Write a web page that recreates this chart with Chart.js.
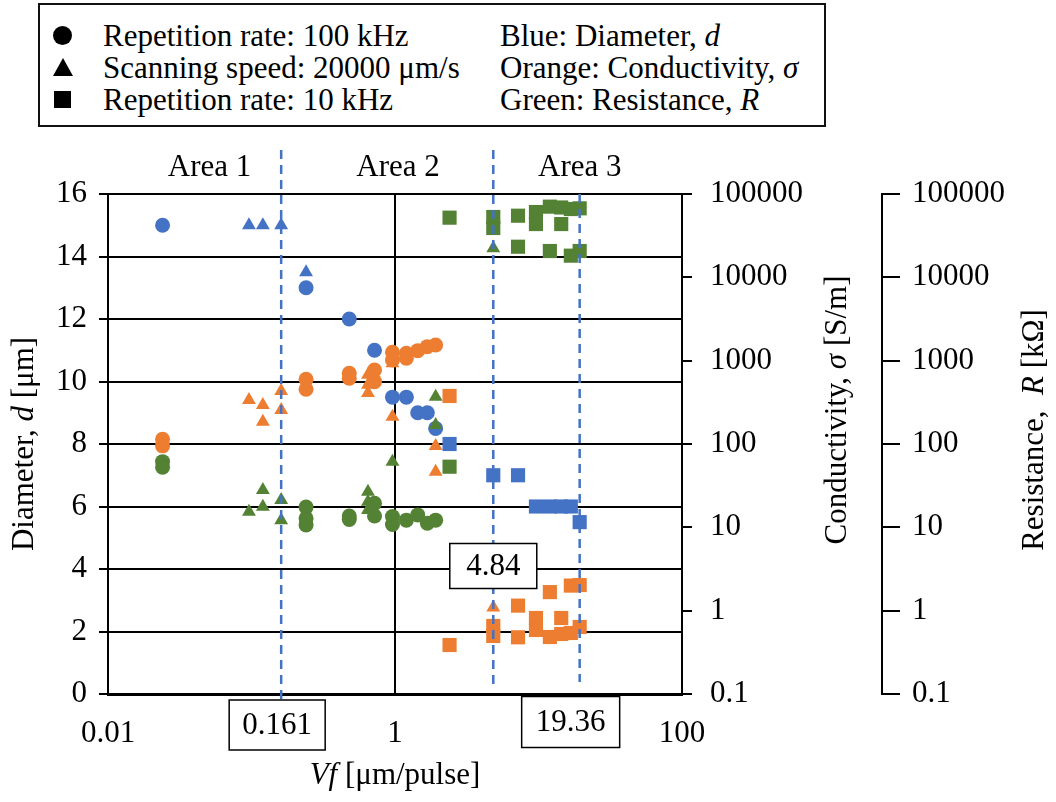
<!DOCTYPE html>
<html>
<head>
<meta charset="utf-8">
<script src="https://cdn.jsdelivr.net/npm/chart.js@4.4.1/dist/chart.umd.min.js"></script>
<style>
  body { margin: 0; background: #fff; }
  #wrap { position: relative; width: 1056px; height: 802px; }
  #chart { position: absolute; left: 0; top: 0; }
  .legend {
    position: absolute; left: 38px; top: 3px; width: 784px; height: 120px;
    border: 2px solid #111; background: #fff;
    font-family: "Liberation Serif", serif; font-size: 31px; color: #000;
  }
  .row { position: absolute; line-height: 32px; white-space: nowrap; }
  .sym { position: absolute; background: #000; }
  .circle { width: 19px; height: 19px; border-radius: 50%; }
  .square { width: 17px; height: 17px; }
  .tri { width: 0; height: 0; background: none; border-left: 10px solid transparent; border-right: 10px solid transparent; border-bottom: 18px solid #000; }
</style>
</head>
<body>
<div id="wrap">
  <canvas id="chart" width="1056" height="802"></canvas>
  <div class="legend">
    <div class="sym circle" style="left:13px; top:21px;"></div>
    <div class="sym tri" style="left:13px; top:53px;"></div>
    <div class="sym square" style="left:14px; top:86px;"></div>
    <div class="row" style="left:63px; top:15px;">Repetition rate: 100 kHz</div>
    <div class="row" style="left:63px; top:47px;">Scanning speed: 20000 μm/s</div>
    <div class="row" style="left:63px; top:79px;">Repetition rate: 10 kHz</div>
    <div class="row" style="left:460px; top:15px;">Blue: Diameter, <i>d</i></div>
    <div class="row" style="left:460px; top:47px;">Orange: Conductivity, <i>σ</i></div>
    <div class="row" style="left:460px; top:79px;">Green: Resistance, <i>R</i></div>
  </div>
</div>
<script>
// Vf [um/pulse] for each sample group
const circleVf = [0.024, 0.24, 0.48, 0.72, 0.96, 1.2, 1.44, 1.68, 1.92];
const triVf = [0.096, 0.12, 0.161, 0.24];
const squareVf = [2.4, 4.84, 7.2, 9.6, 12, 14.4, 16.8, 19.36];

// Diameter d [um]
const dCircle = [15, 13, 12, 11, 9.5, 9.5, 9, 9, 8.5];
const dTri = [15, 15, 15, 13.5];
const dSquare = [8, 7, 7, 6, 6, 6, 6, 5.5];

// Conductivity sigma [S/m]
const sigCircleVf = [0.024, 0.024, 0.24, 0.24, 0.48, 0.48, 0.72, 0.72, 0.96, 0.96, 1.2, 1.2, 1.44, 1.68, 1.92];
const sigCircle = [114, 95, 598, 454, 706, 615, 773, 560, 1260, 1019, 1227, 1069, 1318, 1472, 1542];
const sigTriVf = [0.096, 0.12, 0.12, 0.161, 0.161, 0.648, 0.648, 0.648, 0.96, 0.96, 1.92, 1.92, 4.84];
const sigTri = [337, 294, 185, 433, 256, 679, 515, 409, 931, 213, 94.6, 46.6, 1.09];
const sigSquareVf = [2.4, 2.4, 4.84, 4.84, 7.2, 7.2, 9.6, 9.6, 12, 12, 14.4, 14.4, 16.8, 16.8, 19.36, 19.36];
const sigSquare = [377, 0.387, 0.655, 0.497, 1.15, 0.479, 0.817, 0.586, 1.67, 0.483, 0.817, 0.525, 2.0, 0.54, 2.03, 0.637];

// Resistance R [kOhm]
const resCircleVf = [0.024, 0.024, 0.24, 0.24, 0.24, 0.48, 0.48, 0.72, 0.72, 0.96, 0.96, 1.2, 1.44, 1.68, 1.92];
const resCircle = [61.4, 52.6, 17.5, 12.8, 10.7, 13.7, 12.4, 19.4, 13.7, 13.5, 10.8, 12.2, 14.1, 11.2, 12.2];
const resTriVf = [0.096, 0.12, 0.12, 0.161, 0.161, 0.648, 0.648, 0.648, 0.96, 1.92, 1.92, 4.84];
const resTri = [15.4, 28.1, 17.7, 21.3, 12.2, 26.8, 20.3, 16.1, 61.4, 370, 169, 22300];
const resSquareVf = [2.4, 2.4, 4.84, 4.84, 7.2, 7.2, 9.6, 9.6, 12, 12, 14.4, 14.4, 16.8, 16.8, 19.36, 19.36];
const resSquare = [52000, 53.4, 53000, 39100, 54900, 23300, 60800, 43600, 70500, 20700, 68900, 43600, 66000, 18200, 67300, 20700];

// axis ticks
const xTicks = [0.01, 1, 100];
const logTicks = [0.1, 1, 10, 100, 1000, 10000, 100000];

// area boundaries and labels
const boundaries = [0.161, 4.84, 19.36];
const areaNames = ['Area 1', 'Area 2', 'Area 3'];
const areaCenters = [0.051, 1.05, 19.4];

const BLUE = '#4472C4', ORANGE = '#ED7D31', GREEN = '#548235';
const FONT = '"Liberation Serif", serif';
const FS = 31;

function pts(xs, ys) {
  return xs.map((x, i) => ({ x: x, y: ys[i] }));
}

function series(label, xs, ys, color, style, axis) {
  return {
    label: label,
    data: pts(xs, ys),
    yAxisID: axis,
    backgroundColor: color,
    borderColor: color,
    borderWidth: 0,
    pointStyle: style,
    pointRadius: style === 'rect' ? 10 : (style === 'triangle' ? 8 : 7.5),
    pointHoverRadius: style === 'rect' ? 10 : 8,
    showLine: false
  };
}

// text with italic runs, centred on (cx, cy)
function drawRich(ctx, parts, cx, cy, angle) {
  ctx.save();
  ctx.translate(cx, cy);
  ctx.rotate(angle);
  ctx.textBaseline = 'middle';
  ctx.textAlign = 'left';
  ctx.fillStyle = '#000';
  const fonts = parts.map(p => (p[1] ? 'italic ' : '') + FS + 'px ' + FONT);
  const widths = parts.map((p, i) => { ctx.font = fonts[i]; return ctx.measureText(p[0]).width; });
  let x = -widths.reduce((a, b) => a + b, 0) / 2;
  parts.forEach((p, i) => {
    ctx.font = fonts[i];
    ctx.fillText(p[0], x, 0);
    x += widths[i];
  });
  ctx.restore();
}

function boxedLabel(ctx, text, cx, cy, w, h) {
  ctx.save();
  ctx.fillStyle = '#fff';
  ctx.fillRect(cx - w / 2, cy - h / 2, w, h);
  ctx.strokeStyle = '#000';
  ctx.lineWidth = 1.5;
  ctx.strokeRect(cx - w / 2, cy - h / 2, w, h);
  ctx.fillStyle = '#000';
  ctx.font = FS + 'px ' + FONT;
  ctx.textAlign = 'center';
  ctx.textBaseline = 'middle';
  ctx.fillText(text, cx, cy + 1);
  ctx.restore();
}

const decorations = {
  id: 'decorations',
  afterDatasetsDraw(chart) {
    const ctx = chart.ctx;
    const xs = chart.scales.x;
    const area = chart.chartArea;

    // dashed area boundaries
    const tops = [150, 150, area.top];
    const bottoms = [700, 690, 682];
    ctx.save();
    ctx.strokeStyle = BLUE;
    ctx.lineWidth = 2.5;
    ctx.setLineDash([9, 6]);
    boundaries.forEach((v, i) => {
      const px = xs.getPixelForValue(v);
      ctx.beginPath();
      ctx.moveTo(px, tops[i]);
      ctx.lineTo(px, bottoms[i]);
      ctx.stroke();
    });
    ctx.restore();

    // area names
    ctx.save();
    ctx.fillStyle = '#000';
    ctx.font = FS + 'px ' + FONT;
    ctx.textAlign = 'center';
    ctx.textBaseline = 'middle';
    areaNames.forEach((t, i) => ctx.fillText(t, xs.getPixelForValue(areaCenters[i]), 168));
    ctx.restore();

    // boundary values
    boxedLabel(ctx, '0.161', xs.getPixelForValue(boundaries[0]) - 4, 725, 96, 50);
    boxedLabel(ctx, '4.84', xs.getPixelForValue(boundaries[1]), 566, 87, 45);
    boxedLabel(ctx, '19.36', xs.getPixelForValue(boundaries[2]) - 9, 722, 98, 51);

    // axis titles
    const mid = (area.top + area.bottom) / 2;
    drawRich(ctx, [['Diameter, ', false], ['d', true], [' [μm]', false]], 25, mid, -Math.PI / 2);
    drawRich(ctx, [['Conductivity, ', false], ['σ', true], [' [S/m]', false]], chart.scales.y2.left + 156, 410, -Math.PI / 2);
    drawRich(ctx, [['Resistance,  ', false], ['R', true], [' [kΩ]', false]], chart.scales.y3.left + 153, 430, -Math.PI / 2);
    drawRich(ctx, [['Vf', true], [' [μm/pulse]', false]], (area.left + area.right) / 2, 776, 0);
  }
};

const tickFont = { family: FONT, size: FS };

new Chart(document.getElementById('chart'), {
  type: 'scatter',
  data: {
    datasets: [
      series('R, 20000 um/s', resTriVf, resTri, GREEN, 'triangle', 'y3'),
      series('R, 100 kHz', resCircleVf, resCircle, GREEN, 'circle', 'y3'),
      series('R, 10 kHz', resSquareVf, resSquare, GREEN, 'rect', 'y3'),
      series('sigma, 20000 um/s', sigTriVf, sigTri, ORANGE, 'triangle', 'y2'),
      series('sigma, 100 kHz', sigCircleVf, sigCircle, ORANGE, 'circle', 'y2'),
      series('sigma, 10 kHz', sigSquareVf, sigSquare, ORANGE, 'rect', 'y2'),
      series('d, 20000 um/s', triVf, dTri, BLUE, 'triangle', 'y'),
      series('d, 100 kHz', circleVf, dCircle, BLUE, 'circle', 'y'),
      series('d, 10 kHz', squareVf, dSquare, BLUE, 'rect', 'y')
    ]
  },
  options: {
    responsive: false,
    animation: false,
    layout: { padding: { top: 194, left: 0, right: 0, bottom: 0 } },
    plugins: {
      legend: { display: false },
      tooltip: { enabled: false }
    },
    scales: {
      x: {
        type: 'logarithmic',
        min: 0.01,
        max: 100,
        afterBuildTicks: s => { s.ticks = xTicks.map(v => ({ value: v })); },
        afterFit: s => { s.height = 108; },
        ticks: { callback: v => String(v), font: tickFont, color: '#000', padding: 21, maxRotation: 0, autoSkip: false },
        grid: { color: '#000', lineWidth: 2, drawTicks: false },
        border: { color: '#000', width: 3 }
      },
      y: {
        type: 'linear',
        position: 'left',
        min: 0,
        max: 16,
        afterFit: s => { s.width = 108; },
        ticks: { stepSize: 2, font: tickFont, color: '#000', padding: 12 },
        grid: { color: '#000', lineWidth: 2, tickLength: 9 },
        border: { color: '#000', width: 2 }
      },
      y2: {
        type: 'logarithmic',
        position: 'right',
        weight: 0,
        min: 0.1,
        max: 100000,
        afterBuildTicks: s => { s.ticks = logTicks.map(v => ({ value: v })); },
        afterFit: s => { s.width = 200; },
        ticks: { callback: v => String(v), font: tickFont, color: '#000', padding: 18, autoSkip: false },
        grid: { drawOnChartArea: false, color: '#000', lineWidth: 2, tickLength: 10 },
        border: { color: '#000', width: 2 }
      },
      y3: {
        type: 'logarithmic',
        position: 'right',
        weight: 1,
        min: 0.1,
        max: 100000,
        afterBuildTicks: s => { s.ticks = logTicks.map(v => ({ value: v })); },
        afterFit: s => { s.width = 174; },
        ticks: { callback: v => String(v), font: tickFont, color: '#000', padding: 12, autoSkip: false },
        grid: { drawOnChartArea: false, color: '#000', lineWidth: 2, tickLength: 18 },
        border: { color: '#000', width: 2 }
      }
    }
  },
  plugins: [decorations]
});
</script>
</body>
</html>
